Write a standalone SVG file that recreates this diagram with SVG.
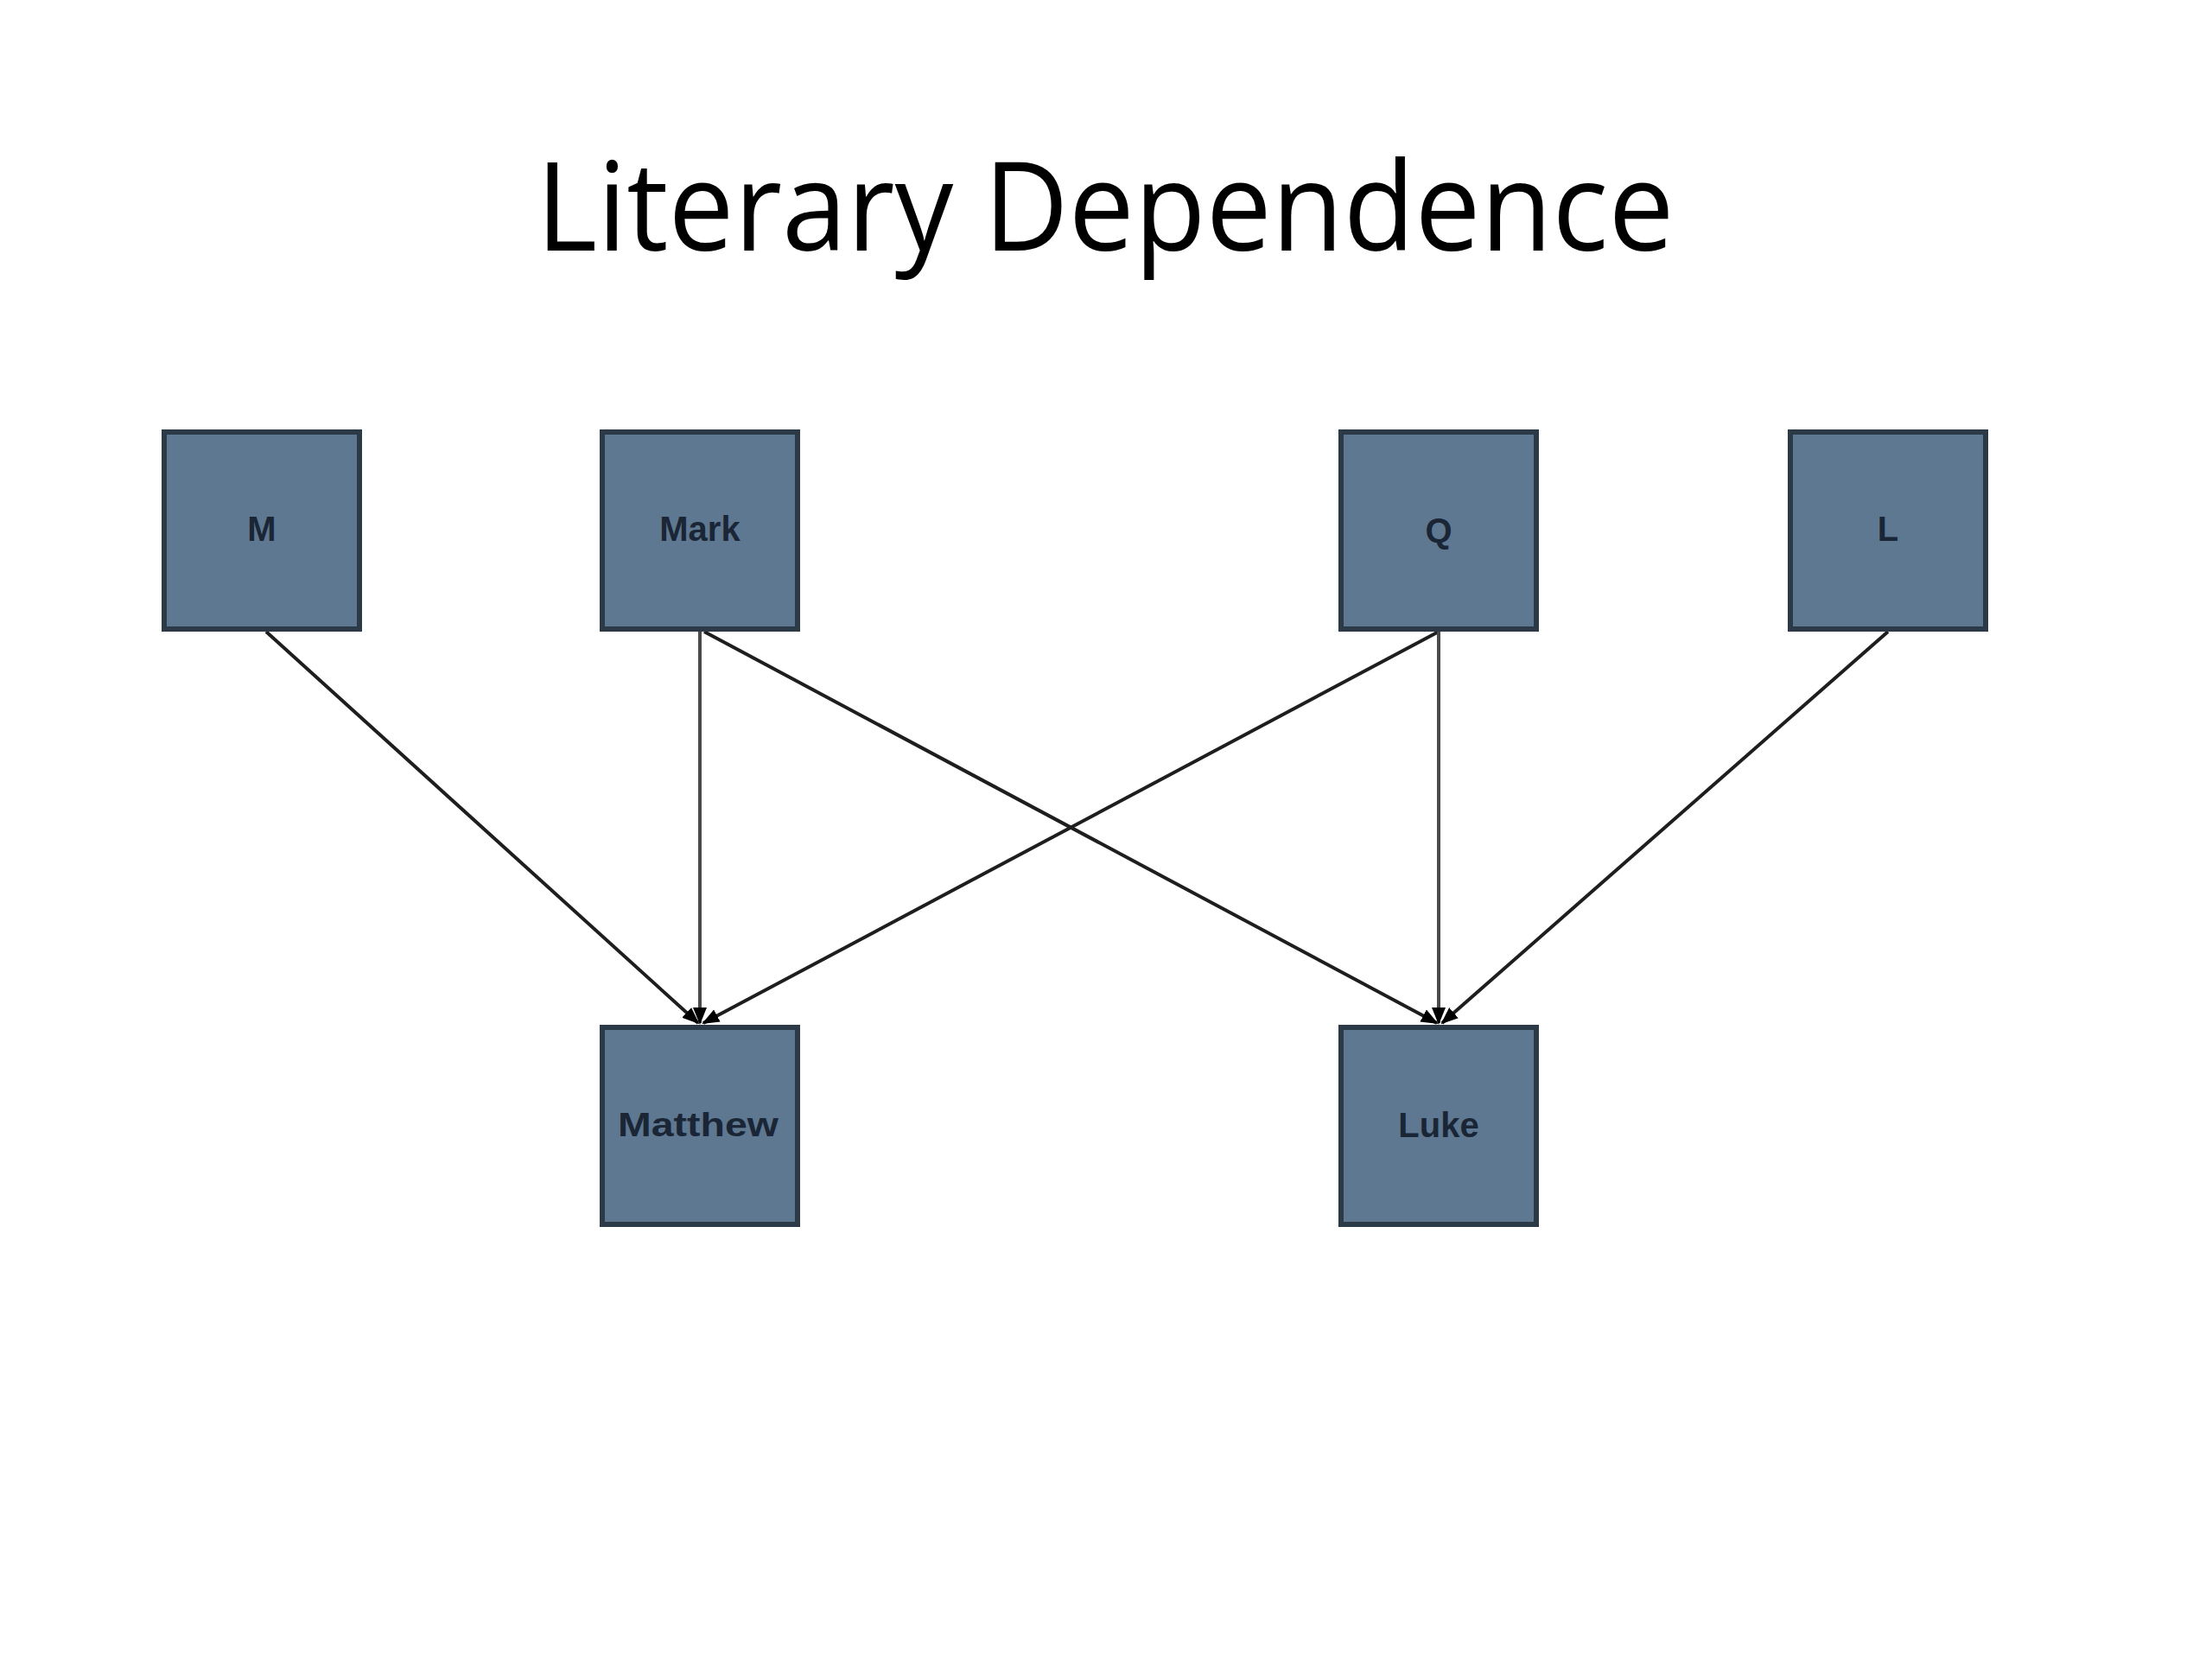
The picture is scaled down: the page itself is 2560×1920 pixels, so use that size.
<svg xmlns="http://www.w3.org/2000/svg" width="2560" height="1920" viewBox="0 0 2560 1920">
<style>
.box{fill:#5f7891;stroke:#2c3a48;stroke-width:6}
.lbl{font-family:"Liberation Sans","DejaVu Sans",sans-serif;font-size:40px;fill:#1a2636;text-anchor:middle;dominant-baseline:central;font-weight:bold}
.title{font-family:"Open Sans","Noto Sans","Liberation Sans",sans-serif;font-size:142px;fill:#000;text-anchor:middle}
.edge{stroke:#1e1e1e;stroke-width:4;fill:none;marker-end:url(#arr)}
</style>
<defs>
<marker id="arr" viewBox="0 0 10 10" refX="9" refY="5" markerWidth="5" markerHeight="5" orient="auto" markerUnits="strokeWidth">
<path d="M0,1 L10,5 L0,9 z" fill="#000"/>
</marker>
</defs>
<rect width="2560" height="1920" fill="#fff"/>
<text class="title" x="1279" y="290" textLength="1317" lengthAdjust="spacingAndGlyphs">Literary Dependence</text>
<g id="connectors">
<line class="edge" x1="308" y1="731" x2="808" y2="1184"/>
<line class="edge" x1="810" y1="731" x2="810" y2="1184" style="stroke:#4a4a4a"/>
<line class="edge" x1="815" y1="731" x2="1663" y2="1184"/>
<line class="edge" x1="1665" y1="731" x2="814" y2="1184"/>
<line class="edge" x1="1665" y1="731" x2="1665" y2="1184" style="stroke:#4a4a4a"/>
<line class="edge" x1="2185" y1="731" x2="1669" y2="1184"/>
</g>
<g id="node-M"><rect class="box" x="190" y="500" width="226" height="228"/><text class="lbl" x="303" y="612">M</text></g>
<g id="node-Mark"><rect class="box" x="697" y="500" width="226" height="228"/><text class="lbl" x="810" y="612">Mark</text></g>
<g id="node-Q"><rect class="box" x="1552" y="500" width="226" height="228"/><text class="lbl" x="1665" y="614">Q</text></g>
<g id="node-L"><rect class="box" x="2072" y="500" width="226" height="228"/><text class="lbl" x="2185" y="612">L</text></g>
<g id="node-Matthew"><rect class="box" x="697" y="1189" width="226" height="228"/><text class="lbl" x="808" y="1302" textLength="186" lengthAdjust="spacingAndGlyphs" style="font-size:38px">Matthew</text></g>
<g id="node-Luke"><rect class="box" x="1552" y="1189" width="226" height="228"/><text class="lbl" x="1665" y="1302">Luke</text></g>
</svg>
